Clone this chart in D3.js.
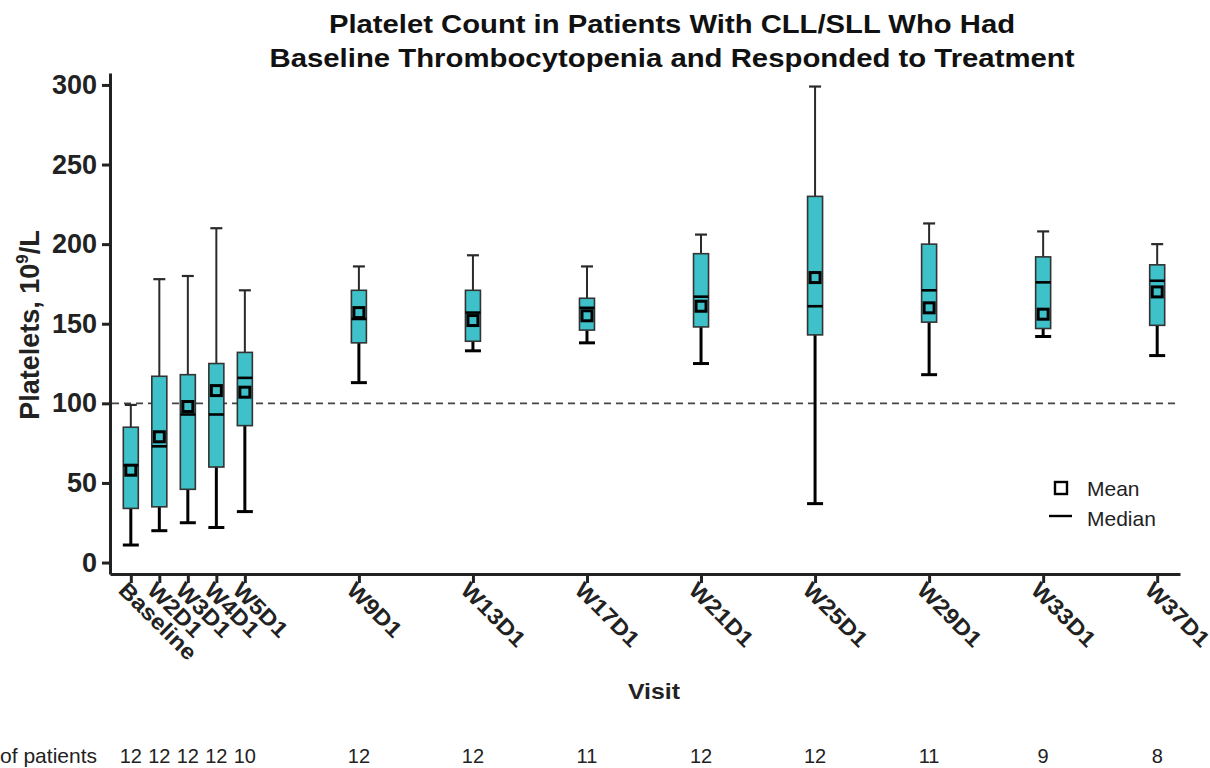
<!DOCTYPE html>
<html lang="en">
<head>
  <meta charset="UTF-8">
  <title>Platelet Count</title>
  <script src="https://d3js.org/d3.v7.min.js"></script>
  <style>
    body { margin: 0; background: #fff; }
    svg { font-family: Arial, "Liberation Sans", sans-serif; }
  </style>
</head>
<body>
  <div id="chart"></div>
  <script>
    // visits and week positions
    const visits = ['Baseline', 'W2D1', 'W3D1', 'W4D1', 'W5D1', 'W9D1', 'W13D1', 'W17D1', 'W21D1', 'W25D1', 'W29D1', 'W33D1', 'W37D1']
    const weeks = [1, 2, 3, 4, 5, 9, 13, 17, 21, 25, 29, 33, 37]
    // box stats
    const whiskerLow = [11, 20, 25, 22, 32, 113, 133, 138, 125, 37, 118, 142, 130]
    const q1 = [34, 35, 46, 60, 86, 138, 139, 146, 148, 143, 151, 147, 149]
    const median = [61, 73, 93, 93, 116, 153, 157, 160, 167, 161, 171, 176, 177]
    const q3 = [85, 117, 118, 125, 132, 171, 171, 166, 194, 230, 200, 192, 187]
    const whiskerHigh = [99, 178, 180, 210, 171, 186, 193, 186, 206, 299, 213, 208, 200]
    const mean = [58, 79, 98, 108, 107, 157, 152, 155, 161, 179, 160, 156, 170]
    const nPatients = [12, 12, 12, 12, 10, 12, 12, 11, 12, 12, 11, 9, 8]
    const yTicks = [0, 50, 100, 150, 200, 250, 300]
    const threshold = 100

    const teal = '#3ec1c9'
    const width = 1210, height = 768

    const svg = d3.select('#chart')
      .append('svg')
      .attr('width', width)
      .attr('height', height)

    const x = d3.scaleLinear().domain([0.27, 37.8]).range([110, 1180])
    const y = d3.scaleLinear().domain([-7.2, 307.5]).range([574, 73])

    const data = visits.map((v, i) => ({
      visit: v, week: weeks[i], lo: whiskerLow[i], q1: q1[i], med: median[i],
      q3: q3[i], hi: whiskerHigh[i], mean: mean[i], n: nPatients[i]
    }))

    // title (the original font is a bit wider than Arial, so stretch it)
    svg.append('text')
      .attr('x', 672).attr('y', 33)
      .attr('text-anchor', 'middle')
      .attr('textLength', 686).attr('lengthAdjust', 'spacingAndGlyphs')
      .style('font-weight', 'bold').style('font-size', '25px')
      .attr('fill', '#111')
      .text('Platelet Count in Patients With CLL/SLL Who Had')
    svg.append('text')
      .attr('x', 672).attr('y', 67)
      .attr('text-anchor', 'middle')
      .attr('textLength', 805).attr('lengthAdjust', 'spacingAndGlyphs')
      .style('font-weight', 'bold').style('font-size', '25px')
      .attr('fill', '#111')
      .text('Baseline Thrombocytopenia and Responded to Treatment')

    // y axis
    const yAxis = svg.append('g')
      .attr('transform', 'translate(110,0)')
      .call(d3.axisLeft(y).tickValues(yTicks).tickSize(8).tickSizeOuter(0).tickPadding(5))
    yAxis.selectAll('path, line').attr('stroke', '#222').attr('stroke-width', 3)
    yAxis.selectAll('text')
      .style('font-size', '27px')
      .style('font-weight', 'bold')
      .attr('fill', '#222')
      .attr('font-family', 'Arial, "Liberation Sans", sans-serif')

    // x axis
    const xAxis = svg.append('g')
      .attr('transform', 'translate(0,574)')
      .call(d3.axisBottom(x).tickValues(weeks).tickSize(9).tickSizeOuter(0).tickFormat(() => ''))
    xAxis.selectAll('path, line').attr('stroke', '#222').attr('stroke-width', 3)

    svg.selectAll('text.xlab')
      .data(data)
      .enter()
      .append('text')
      .attr('class', 'xlab')
      .attr('transform', d => `translate(${x(d.week) - 8}, 586) rotate(45)`)
      .attr('dy', '0.35em')
      .style('font-size', '22px')
      .style('font-weight', 'bold')
      .attr('fill', '#222')
      .text(d => d.visit)
      .each(function () {
        const len = this.getComputedTextLength()
        d3.select(this).attr('textLength', len * 1.1).attr('lengthAdjust', 'spacingAndGlyphs')
      })

    svg.append('text')
      .attr('x', 654)
      .attr('y', 699)
      .attr('text-anchor', 'middle')
      .attr('textLength', 52).attr('lengthAdjust', 'spacingAndGlyphs')
      .style('font-size', '22px')
      .style('font-weight', 'bold')
      .attr('fill', '#222')
      .text('Visit')

    // y label
    const ylab = svg.append('text')
      .attr('transform', 'translate(39,325) rotate(-90)')
      .attr('text-anchor', 'middle')
      .style('font-size', '27px')
      .style('font-weight', 'bold')
      .attr('fill', '#222')
    ylab.append('tspan').text('Platelets, 10')
    ylab.append('tspan').attr('dy', -11).style('font-size', '17px').text('9')
    ylab.append('tspan').attr('dy', 11).text('/L')

    // threshold line
    svg.append('line')
      .attr('x1', 112).attr('x2', 1180)
      .attr('y1', y(threshold)).attr('y2', y(threshold))
      .attr('stroke', '#444')
      .attr('stroke-width', 1.6)
      .attr('stroke-dasharray', '7,5')

    const bw = 15
    const g = svg.selectAll('g.box')
      .data(data)
      .enter()
      .append('g')
      .attr('class', 'box')

    // upper whisker (thin)
    g.append('line')
      .attr('x1', d => x(d.week)).attr('x2', d => x(d.week))
      .attr('y1', d => y(d.q3)).attr('y2', d => y(d.hi))
      .attr('stroke', '#2a2a2a').attr('stroke-width', 2)
    g.append('line')
      .attr('x1', d => x(d.week) - 6).attr('x2', d => x(d.week) + 6)
      .attr('y1', d => y(d.hi)).attr('y2', d => y(d.hi))
      .attr('stroke', '#2a2a2a').attr('stroke-width', 2.2)
    // lower whisker (thick)
    g.append('line')
      .attr('x1', d => x(d.week)).attr('x2', d => x(d.week))
      .attr('y1', d => y(d.q1)).attr('y2', d => y(d.lo))
      .attr('stroke', '#000').attr('stroke-width', 3)
    g.append('line')
      .attr('x1', d => x(d.week) - 8).attr('x2', d => x(d.week) + 8)
      .attr('y1', d => y(d.lo)).attr('y2', d => y(d.lo))
      .attr('stroke', '#000').attr('stroke-width', 3)

    // box
    g.append('rect')
      .attr('x', d => x(d.week) - bw / 2)
      .attr('y', d => y(d.q3))
      .attr('width', bw)
      .attr('height', d => y(d.q1) - y(d.q3))
      .attr('fill', teal)
      .attr('stroke', '#333')
      .attr('stroke-width', 1.6)

    // median
    g.append('line')
      .attr('x1', d => x(d.week) - bw / 2).attr('x2', d => x(d.week) + bw / 2)
      .attr('y1', d => y(d.med)).attr('y2', d => y(d.med))
      .attr('stroke', '#000').attr('stroke-width', 2.6)

    // mean
    g.append('rect')
      .attr('x', d => x(d.week) - 5)
      .attr('y', d => y(d.mean) - 5)
      .attr('width', 10).attr('height', 10)
      .attr('fill', teal)
      .attr('stroke', '#000')
      .attr('stroke-width', 3)

    // legend
    svg.append('rect')
      .attr('x', 1055).attr('y', 482).attr('width', 12).attr('height', 12)
      .attr('fill', 'none').attr('stroke', '#000').attr('stroke-width', 2.4)
    svg.append('text')
      .attr('x', 1087).attr('y', 496)
      .style('font-size', '21px').attr('fill', '#222')
      .text('Mean')
    svg.append('line')
      .attr('x1', 1049).attr('x2', 1072).attr('y1', 516).attr('y2', 516)
      .attr('stroke', '#000').attr('stroke-width', 2.4)
    svg.append('text')
      .attr('x', 1087).attr('y', 526)
      .style('font-size', '21px').attr('fill', '#222')
      .text('Median')

    // patient counts
    svg.append('text')
      .attr('x', 97).attr('y', 763)
      .attr('text-anchor', 'end')
      .style('font-size', '21px').attr('fill', '#222')
      .text('No. of patients')
    svg.selectAll('text.count')
      .data(data)
      .enter()
      .append('text')
      .attr('class', 'count')
      .attr('x', d => x(d.week))
      .attr('y', 763)
      .attr('text-anchor', 'middle')
      .style('font-size', '20px')
      .attr('fill', '#222')
      .text(d => d.n)
  </script>
</body>
</html>
